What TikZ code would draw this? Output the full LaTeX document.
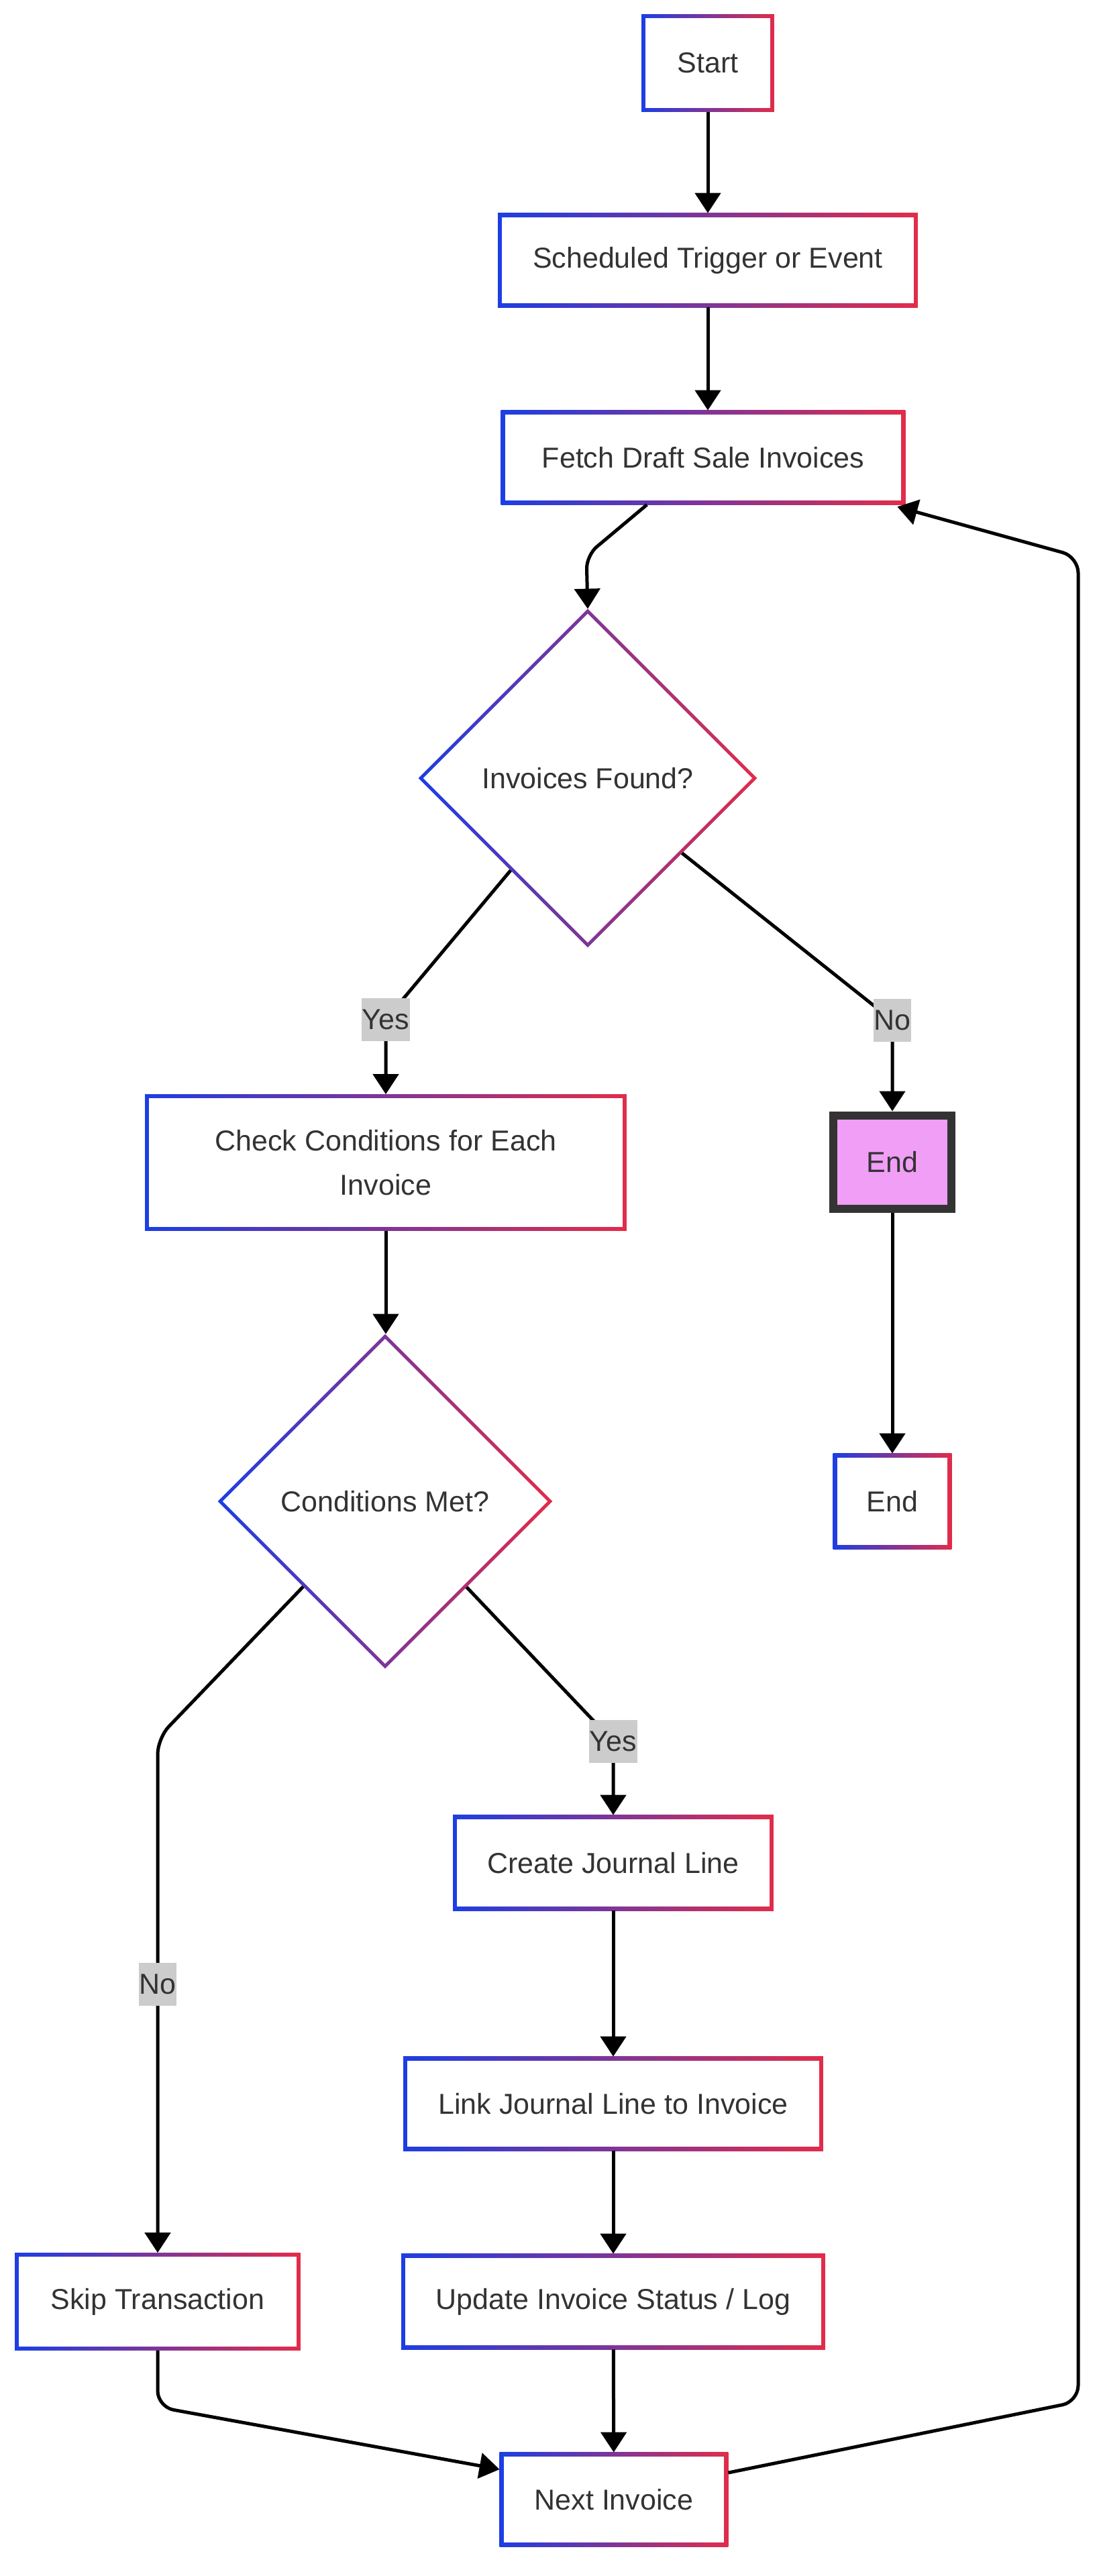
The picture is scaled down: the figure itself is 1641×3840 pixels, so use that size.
\documentclass[tikz,border=0pt]{standalone}
\usepackage{fontspec}
\setmainfont{Liberation Sans}
\usetikzlibrary{shapes.geometric,arrows.meta,calc,backgrounds}
\definecolor{gblue}{RGB}{28,62,228}
\definecolor{gred}{RGB}{226,44,74}
\definecolor{txt}{RGB}{51,51,51}
\definecolor{lbl}{RGB}{204,204,204}
\definecolor{pinkend}{RGB}{240,158,246}
\definecolor{darkb}{RGB}{51,51,51}
\newcommand\gframe[1]{%
 \begin{pgfonlayer}{background}
 \shade[left color=gblue,right color=gred] (#1.south west) rectangle (#1.north east);
 \fill[white] ([shift={(3pt,3pt)}]#1.south west) rectangle ([shift={(-3pt,-3pt)}]#1.north east);
 \end{pgfonlayer}}
\newcommand\dframe[1]{%
 \begin{pgfonlayer}{background}
 \shade[left color=gblue,right color=gred] (#1.north) -- (#1.east) -- (#1.south) -- (#1.west) -- cycle;
 \fill[white] ([yshift=-3.6pt]#1.north) -- ([xshift=-3.6pt]#1.east) -- ([yshift=3.6pt]#1.south) -- ([xshift=3.6pt]#1.west) -- cycle;
 \end{pgfonlayer}}
\tikzset{
 box/.style={draw=none,inner sep=0pt,text=txt,font=\fontsize{21.5}{33}\selectfont,align=center},
 dec/.style={diamond,aspect=1,draw=none,inner sep=0pt,text=txt,font=\fontsize{21.5}{33}\selectfont},
 lab/.style={fill=lbl,text=txt,inner xsep=0.5pt,inner ysep=0pt,minimum height=32pt,font=\fontsize{21.5}{26}\selectfont},
 arr/.style={line width=2.5pt,-{Triangle[width=19pt,length=15pt]}},
}
\begin{document}
\begin{tikzpicture}[x=0.5pt,y=-0.5pt]
\useasboundingbox (0,0) rectangle (1641,3840);
% nodes
\node[box,minimum width=98.5pt,minimum height=72.5pt] (start) at (1055,94) {Start};
\node[box,minimum width=312.5pt,minimum height=70pt] (sched) at (1055,388) {Scheduled Trigger or Event};
\node[box,minimum width=301pt,minimum height=70pt] (fetch) at (1048,682) {Fetch Draft Sale Invoices};
\node[dec,minimum width=252pt,minimum height=252pt] (d1) at (876,1160) {Invoices Found?};
\node[box,minimum width=358.5pt,minimum height=101.5pt] (check) at (575,1733) {Check Conditions for Each\\Invoice};
\node[draw=darkb,line width=6pt,fill=pinkend,text=txt,inner sep=0pt,minimum width=88pt,minimum height=69.5pt,font=\fontsize{21.5}{26}\selectfont] (endp) at (1330,1732) {End};
\node[box,minimum width=88pt,minimum height=71pt] (end2) at (1330,2238) {End};
\node[dec,minimum width=249pt,minimum height=249pt] (d2) at (574,2238) {Conditions Met?};
\node[box,minimum width=238.5pt,minimum height=71pt] (create) at (914,2777) {Create Journal Line};
\node[box,minimum width=312.5pt,minimum height=70pt] (link) at (914,3136) {Link Journal Line to Invoice};
\node[box,minimum width=315.5pt,minimum height=71pt] (update) at (914,3431) {Update Invoice Status / Log};
\node[box,minimum width=212.5pt,minimum height=72.5pt] (skip) at (235,3431) {Skip Transaction};
\node[box,minimum width=170pt,minimum height=70pt] (next) at (915,3726) {Next Invoice};
\gframe{start}\gframe{sched}\gframe{fetch}\gframe{check}\gframe{end2}
\gframe{create}\gframe{link}\gframe{update}\gframe{skip}\gframe{next}
\dframe{d1}\dframe{d2}
% bend coordinates
\coordinate (cf) at (874,828);
\coordinate (c1) at (575,1520);
\coordinate (c2) at (1330,1521);
\coordinate (c3) at (914,2596);
\coordinate (c4) at (235,2591);
\coordinate (c5) at (235,3588);
\coordinate (c6) at (1607,3580);
\coordinate (c7) at (1607,830);
% connectors
\draw[arr] (start) -- (sched);
\draw[arr] (sched.south) -- (sched.south |- fetch.north);
\draw[arr,rounded corners=10pt] (fetch) -- (cf) -- (d1.north);
\draw[arr] (d1) -- (c1) -- (check);
\draw[arr] (d1) -- (c2) -- (endp);
\draw[arr] (endp) -- (end2);
\draw[arr] (check.south) -- (check.south |- d2.north);
\draw[arr] (d2) -- (c3) -- (create);
\draw[arr,rounded corners=12pt] (d2) -- (c4) -- (skip);
\draw[arr] (create) -- (link);
\draw[arr] (link) -- (update);
\draw[arr] (update) -- (next);
\draw[arr,rounded corners=12pt] (skip) -- (c5) -- ($(next.west)+(0,-45)$);
\draw[arr,rounded corners=12pt] ($(next.east)+(0,-40)$) -- (c6) -- (c7) -- ($(fetch.south east)+(-12,3)$);
% labels
\node[lab] (yes1) at (c1) {Yes};
\node[lab] (no1) at (c2) {No};
\node[lab] (yes2) at (c3) {Yes};
\node[lab] (no2) at (235,2958) {No};
\end{tikzpicture}
\end{document}
